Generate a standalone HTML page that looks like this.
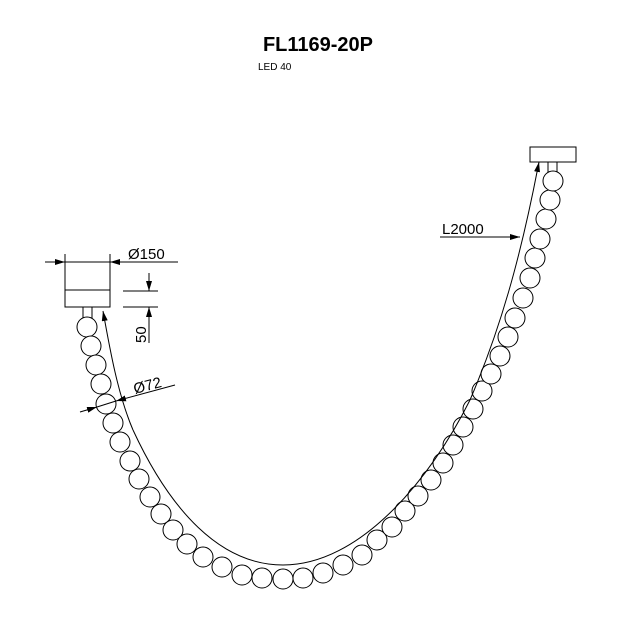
<!DOCTYPE html>
<html><head><style>body{margin:0;background:#fff}</style></head><body>
<svg width="623" height="623" viewBox="0 0 623 623" xmlns="http://www.w3.org/2000/svg" font-family="Liberation Sans, sans-serif">
<defs><marker id="a" markerWidth="10" markerHeight="6" refX="10" refY="3" orient="auto" markerUnits="userSpaceOnUse"><path d="M0,0L10,3L0,6z" fill="#000"/></marker></defs>
<text x="318" y="51" font-size="20" font-weight="bold" text-anchor="middle">FL1169-20P</text>
<text x="258" y="70" font-size="10">LED 40</text>
<g fill="#fff" stroke="#000" stroke-width="1">
<rect x="65" y="290" width="45" height="17"/>
<rect x="83" y="307" width="9" height="11"/>
<rect x="530" y="147" width="46" height="15"/>
<rect x="548" y="162" width="9" height="10"/>
<g id="b">
<circle cx="87" cy="327" r="10"/><circle cx="91" cy="346" r="10"/><circle cx="96" cy="365" r="10"/><circle cx="101" cy="384" r="10"/><circle cx="106" cy="404" r="10"/><circle cx="113" cy="423" r="10"/>
<circle cx="120" cy="442" r="10"/><circle cx="130" cy="461" r="10"/><circle cx="139" cy="479" r="10"/><circle cx="150" cy="497" r="10"/><circle cx="161" cy="514" r="10"/><circle cx="173" cy="530" r="10"/><circle cx="187" cy="544" r="10"/><circle cx="203" cy="557" r="10"/><circle cx="222" cy="567" r="10"/><circle cx="242" cy="575" r="10"/><circle cx="262" cy="578" r="10"/><circle cx="283" cy="579" r="10"/><circle cx="303" cy="578" r="10"/><circle cx="323" cy="573" r="10"/><circle cx="343" cy="565" r="10"/><circle cx="362" cy="555" r="10"/><circle cx="377" cy="540" r="10"/><circle cx="392" cy="527" r="10"/><circle cx="405" cy="511" r="10"/><circle cx="418" cy="496" r="10"/><circle cx="431" cy="480" r="10"/><circle cx="443" cy="463" r="10"/><circle cx="453" cy="445" r="10"/><circle cx="463" cy="427" r="10"/><circle cx="473" cy="409" r="10"/><circle cx="482" cy="391" r="10"/><circle cx="491" cy="374" r="10"/><circle cx="500" cy="356" r="10"/><circle cx="508" cy="337" r="10"/><circle cx="515" cy="318" r="10"/><circle cx="523" cy="298" r="10"/><circle cx="530" cy="278" r="10"/><circle cx="535" cy="258" r="10"/><circle cx="540" cy="239" r="10"/><circle cx="546" cy="219" r="10"/><circle cx="550" cy="200" r="10"/><circle cx="553" cy="181" r="10"/>
</g></g>
<g fill="none" stroke="#000" stroke-width="1">
<path d="M133,430 C170,510 220,565 283,565 C360,565 430,480 470,400 C500,330 520,260 538,167" />
<path d="M133,430 C118,395 110,350 103,311" marker-end="url(#a)"/>
<path d="M538,167 L539,162" marker-end="url(#a)"/>
<line x1="45" y1="262" x2="65" y2="262" marker-end="url(#a)"/>
<line x1="178" y1="262" x2="110" y2="262" marker-end="url(#a)"/>
<line x1="65" y1="262" x2="110" y2="262"/>
<line x1="65" y1="254" x2="65" y2="290"/><line x1="110" y1="254" x2="110" y2="290"/>
<line x1="123" y1="291" x2="158" y2="291"/><line x1="123" y1="307" x2="158" y2="307"/>
<line x1="149" y1="273" x2="149" y2="291" marker-end="url(#a)"/>
<line x1="149" y1="343" x2="149" y2="307" marker-end="url(#a)"/>
<line x1="80" y1="412" x2="97" y2="407" marker-end="url(#a)"/>
<line x1="175" y1="385" x2="116" y2="401" marker-end="url(#a)"/>
<line x1="97" y1="407" x2="116" y2="401"/>
<line x1="440" y1="237" x2="520" y2="237" marker-end="url(#a)"/>
</g>
<text x="128" y="259" font-size="15">Ø150</text>
<text transform="translate(146,343) rotate(-90)" font-size="15">50</text>
<text transform="translate(135,394) rotate(-15)" font-size="15">Ø72</text>
<text x="442" y="234" font-size="15">L2000</text>
</svg>
</body></html>
